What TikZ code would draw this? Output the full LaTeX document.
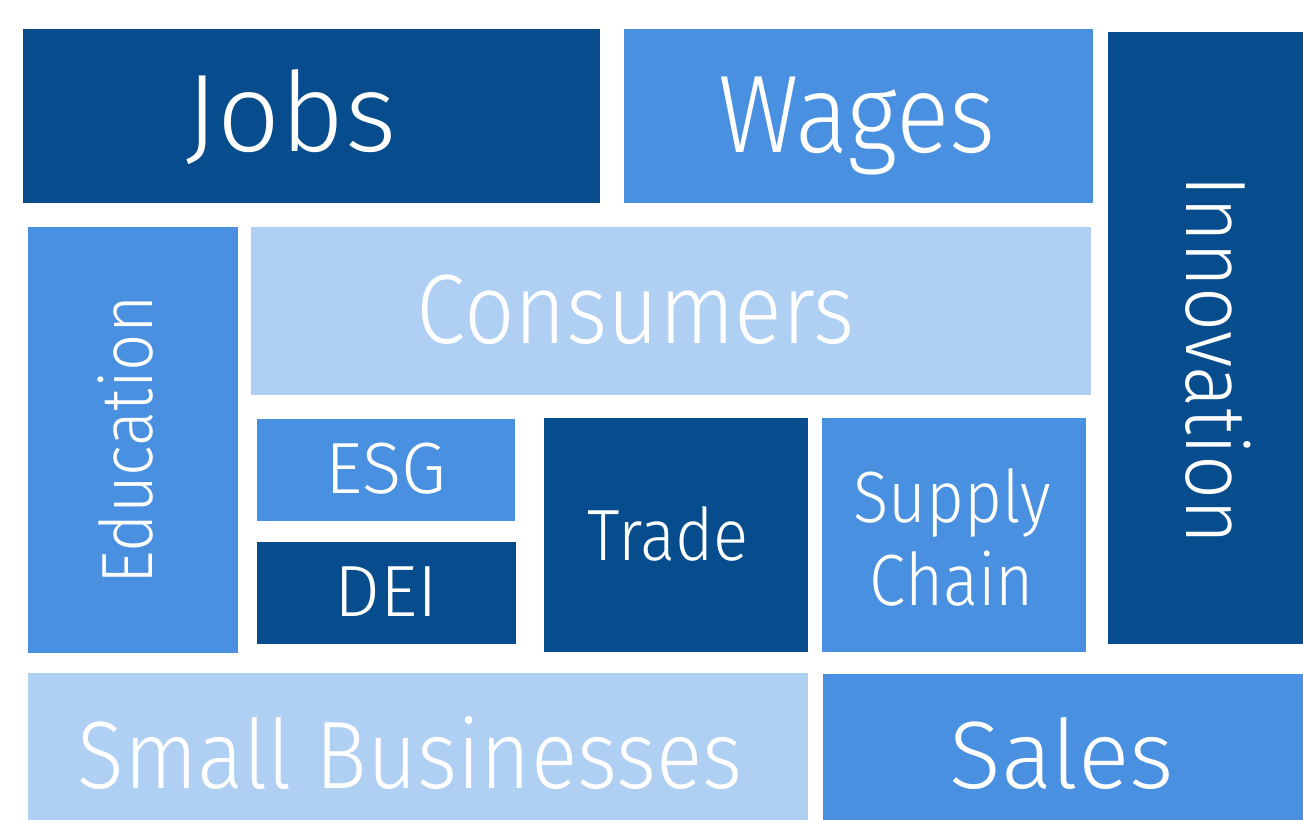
\documentclass[tikz,border=0pt]{standalone}
\usepackage{fontspec}
\setmainfont{Fira Sans}[UprightFont=* Light]
\newfontfamily\narrowfont{Fira Sans}[UprightFont=* Light, FakeStretch=0.9]
\definecolor{sapphire}{RGB}{7, 76, 140}
\definecolor{cornflower}{RGB}{74, 144, 224}
\definecolor{powder}{RGB}{175, 207, 243}

\begin{document}
\begin{tikzpicture}[x=0.5pt, y=-0.5pt,
    tiletext/.style={text=white, inner sep=0pt, anchor=base}]
  \useasboundingbox (0,0) rectangle (1303,820);
  % tiles
  \fill[color=sapphire]   (  23,  29) rectangle ( 600, 203);
  \fill[color=cornflower] ( 624,  29) rectangle (1093, 203);
  \fill[color=sapphire]   (1108,  32) rectangle (1303, 644);
  \fill[color=cornflower] (  28, 227) rectangle ( 238, 653);
  \fill[color=powder]     ( 251, 227) rectangle (1091, 395);
  \fill[color=cornflower] ( 257, 419) rectangle ( 515, 521);
  \fill[color=sapphire]   ( 257, 542) rectangle ( 516, 644);
  \fill[color=sapphire]   ( 544, 418) rectangle ( 808, 652);
  \fill[color=cornflower] ( 822, 418) rectangle (1086, 652);
  \fill[color=powder]     (  28, 673) rectangle ( 808, 820);
  \fill[color=cornflower] ( 823, 674) rectangle (1303, 820);
  % labels
  \node[tiletext, font=\fontsize{55.2}{66}\selectfont] (jobs)  at ( 291, 151) {Jobs};
  \node[tiletext, font=\narrowfont\fontsize{55.2}{66}\selectfont] (wages) at ( 857, 152) {Wages};
  \node[tiletext, font=\narrowfont\fontsize{49.3}{59}\selectfont] (consumers) at (636, 343) {Consumers};
  \node[tiletext, font=\narrowfont\fontsize{42.8}{51}\selectfont, rotate=-90] (innovation) at (1186, 360) {Innovation};
  \node[tiletext, font=\narrowfont\fontsize{36.3}{44}\selectfont, rotate=90]  (education)  at ( 152, 440) {Education};
  \node[tiletext, font=\fontsize{36.3}{44}\selectfont] (esg)   at ( 386, 493) {ESG};
  \node[tiletext, font=\fontsize{36.3}{44}\selectfont] (dei)   at ( 386, 616) {DEI};
  \node[tiletext, font=\narrowfont\fontsize{36.3}{44}\selectfont] (trade) at ( 668, 560) {Trade};
  \node[tiletext, font=\narrowfont\fontsize{36.3}{41.5}\selectfont, align=center] (supply) at (952, 605) {Supply\\Chain};
  \node[tiletext, font=\narrowfont\fontsize{47.9}{57}\selectfont] (smallbiz) at ( 410, 788) {Small Businesses};
  \node[tiletext, font=\fontsize{47.9}{57}\selectfont] (sales) at (1062, 788) {Sales};
\end{tikzpicture}
\end{document}
